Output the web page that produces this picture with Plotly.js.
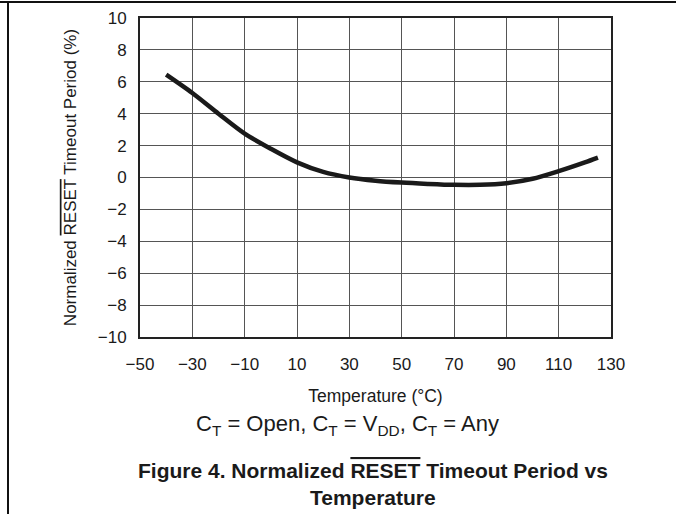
<!DOCTYPE html>
<html>
<head>
<meta charset="utf-8">
<script src="https://cdn.plot.ly/plotly-3.0.1.min.js"></script>
<style>html,body{margin:0;padding:0;background:#fff;}#chart{width:676px;height:514px;}</style>
</head>
<body>
<div id="chart"></div>
<script>
const temperatureC = [-40, -30, -20, -10, 0, 10, 20, 30, 40, 50, 60, 70, 80, 90, 100, 110, 120, 125];
const timeoutPct = [6.45, 5.3, 4.0, 2.75, 1.8, 0.95, 0.35, 0.0, -0.2, -0.32, -0.4, -0.46, -0.46, -0.36, -0.08, 0.4, 0.95, 1.25];
const xTicks = [-50, -30, -10, 10, 30, 50, 70, 90, 110, 130];
const yTicks = [-10, -8, -6, -4, -2, 0, 2, 4, 6, 8, 10];

const OL = 'style="text-decoration:overline"';
const font = 'Liberation Sans, Arial, sans-serif';
const ink = '#1a1a1a';

const trace = {
  x: temperatureC, y: timeoutPct, type: 'scatter', mode: 'lines',
  line: {color: ink, width: 4.5, shape: 'spline', smoothing: 0.8},
  hoverinfo: 'skip'
};

const layout = {
  width: 676, height: 514,
  margin: {l: 140, r: 65, t: 18, b: 177},
  paper_bgcolor: '#fff', plot_bgcolor: '#fff',
  showlegend: false,
  font: {family: font, color: ink},
  xaxis: {
    range: [-50, 130], tickvals: xTicks, ticks: '', showgrid: true,
    gridcolor: '#555', gridwidth: 1, zeroline: false,
    showline: true, linecolor: '#222', linewidth: 2, mirror: true,
    tickfont: {size: 17, family: font, color: ink},
    ticklabelstandoff: 11,
    title: {text: 'Temperature (°C)', font: {size: 17.5, family: font, color: ink}, standoff: 16},
    automargin: false
  },
  yaxis: {
    range: [-10, 10], tickvals: yTicks, ticks: '', showgrid: true,
    gridcolor: '#555', gridwidth: 1, zeroline: false,
    showline: true, linecolor: '#222', linewidth: 2, mirror: true,
    tickfont: {size: 17, family: font, color: ink},
    ticklabelstandoff: 8,
    title: {text: 'Normalized <span ' + OL + '>RESET</span> Timeout Period (%)', font: {size: 17, family: font, color: ink}, standoff: 17},
    automargin: false
  },
  annotations: [
    {xref: 'paper', yref: 'paper', x: (347 - 140) / 471, y: (337 - 425) / 319, xanchor: 'center', yanchor: 'middle',
     text: 'C<sub>T</sub> = Open, C<sub>T</sub> = V<sub>DD</sub>, C<sub>T</sub> = Any', showarrow: false,
     font: {size: 22, family: font, color: ink}},
    {xref: 'paper', yref: 'paper', x: (372.5 - 140) / 471, y: (337 - 470) / 319, xanchor: 'center', yanchor: 'middle',
     text: '<b>Figure 4. Normalized <span ' + OL + '>RESET</span> Timeout Period vs</b>', showarrow: false,
     font: {size: 21, family: font, color: ink}},
    {xref: 'paper', yref: 'paper', x: (372.5 - 140) / 471, y: (337 - 498) / 319, xanchor: 'center', yanchor: 'middle',
     text: '<b>Temperature</b>', showarrow: false,
     font: {size: 21, family: font, color: ink}}
  ],
  shapes: [
    {type: 'line', xref: 'paper', yref: 'paper', x0: -140/471, x1: 536/471, y0: (337-2)/319, y1: (337-2)/319, line: {color: '#111', width: 2}},
    {type: 'line', xref: 'paper', yref: 'paper', x0: -132/471, x1: -132/471, y0: (337-2)/319, y1: -177/319, line: {color: '#111', width: 2}}
  ]
};

Plotly.newPlot('chart', [trace], layout, {staticPlot: true, displayModeBar: false});
</script>
</body>
</html>
